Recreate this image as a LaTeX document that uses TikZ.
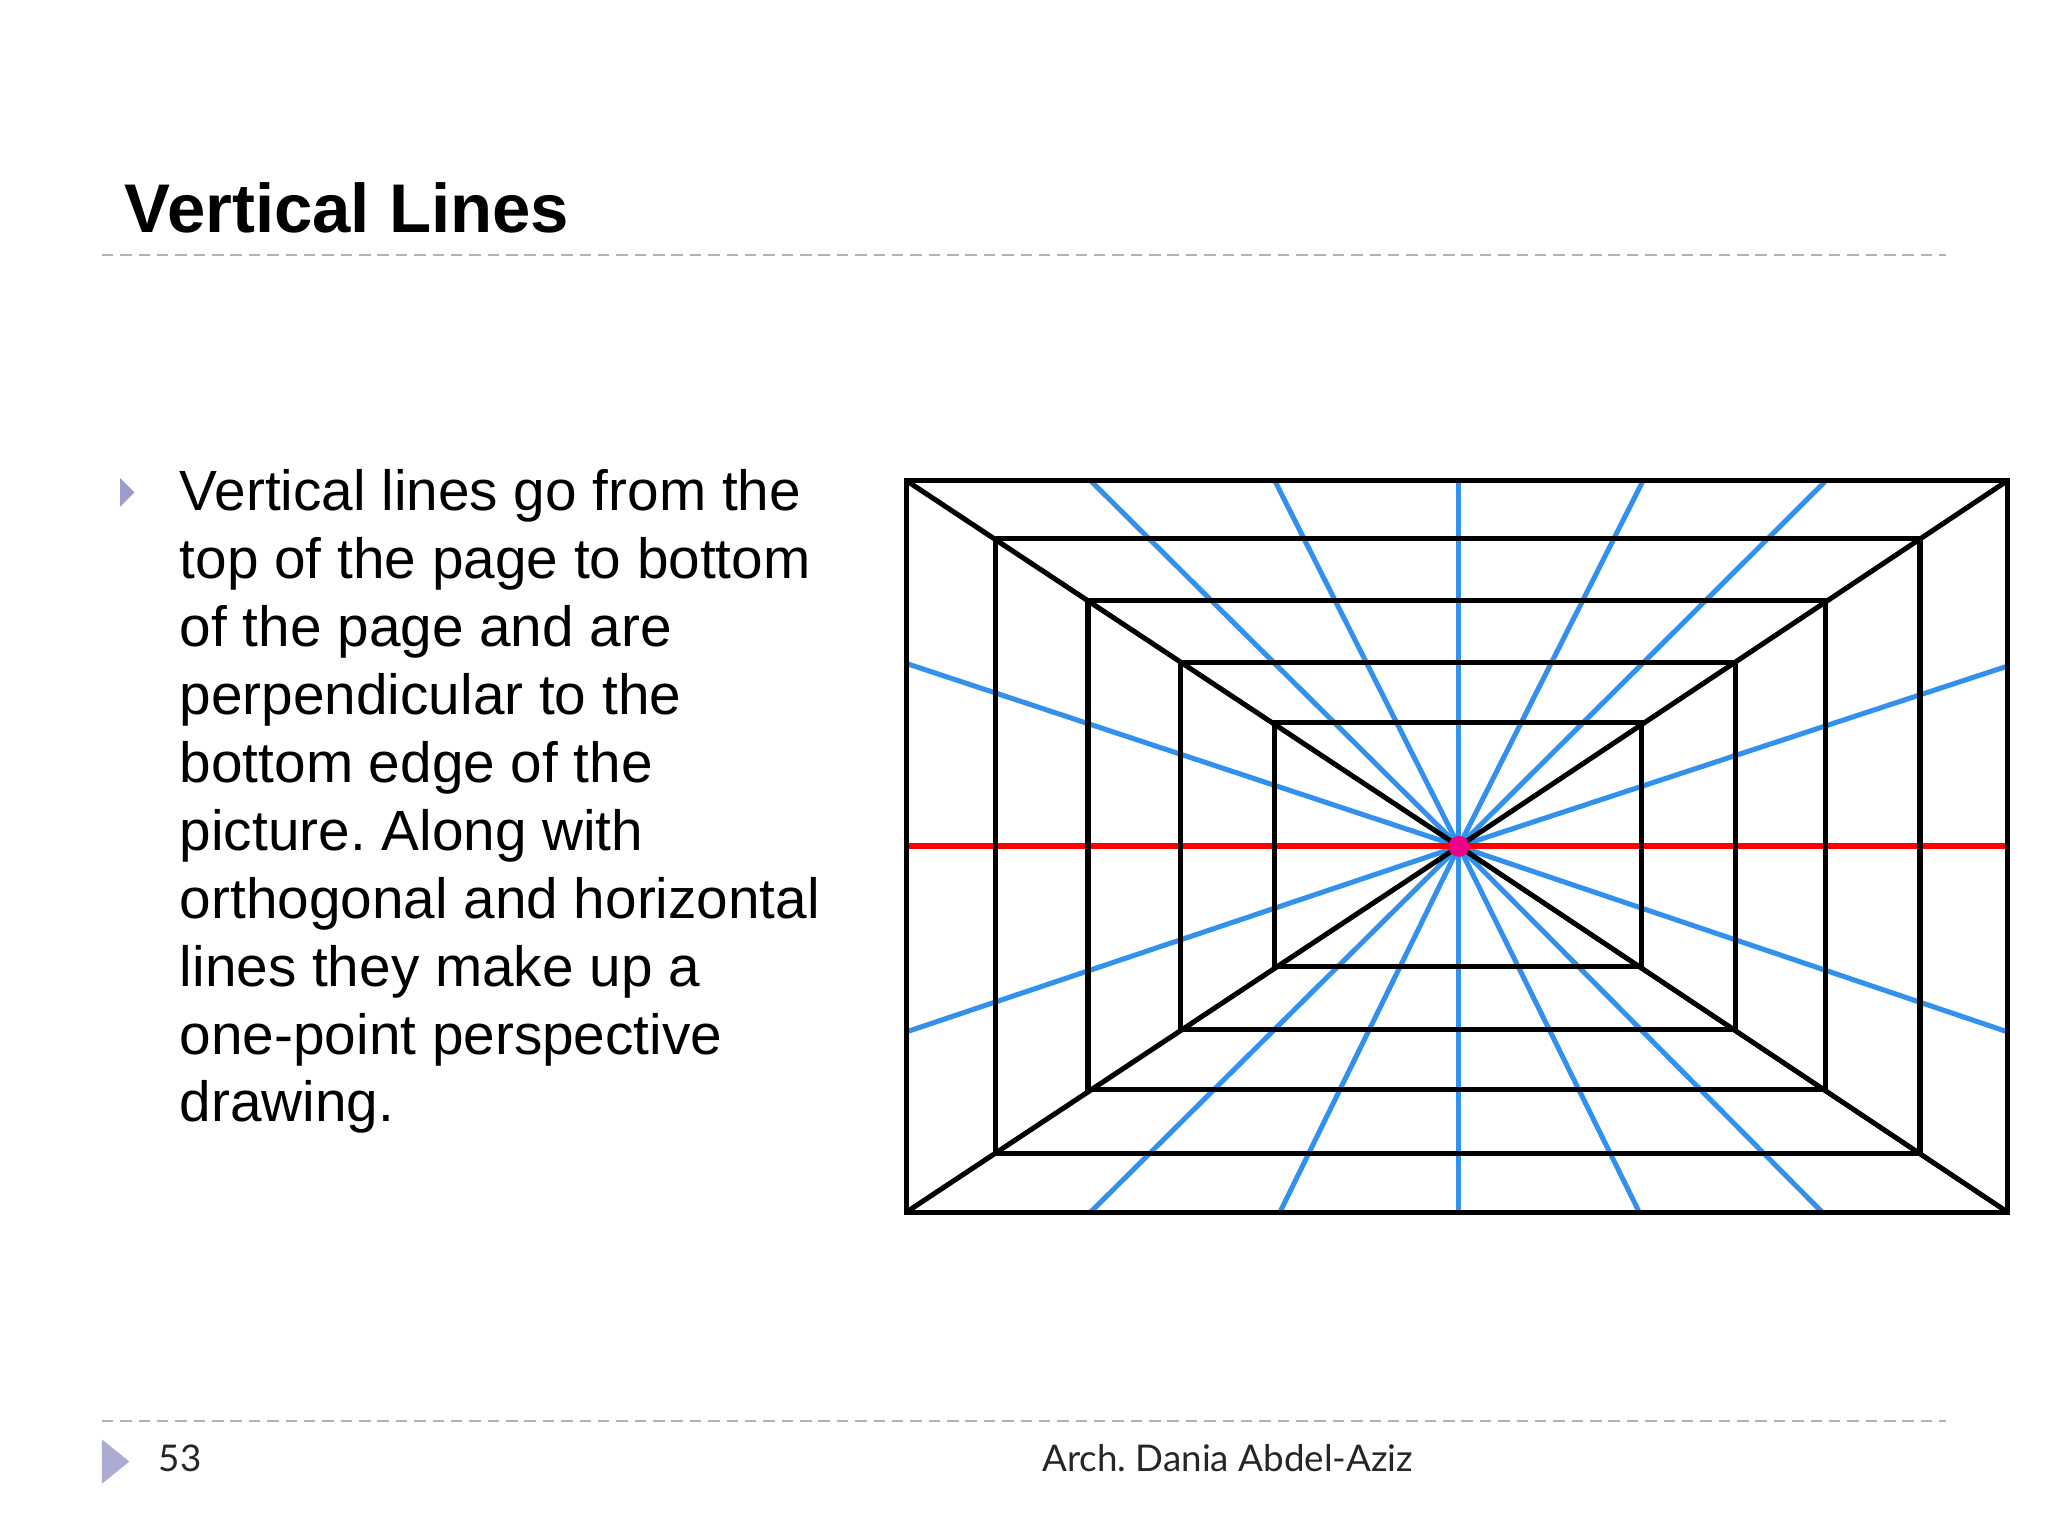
\documentclass[tikz,border=0pt]{standalone}
\usepackage{fontspec}
\setmainfont{Liberation Sans}
\newfontfamily\footfont{Lato}
\frenchspacing
\begin{document}
\begin{tikzpicture}[x=0.01cm,y=-0.01cm,
  frame/.style={line width=1.1pt,black},
  blue/.style={line width=1.1pt,color={rgb,255:red,51;green,145;blue,238}},
  sep/.style={gray!60,dash pattern=on 2.5pt off 1.5pt,line width=0.5pt}]
\useasboundingbox (0,0) rectangle (1568,1176);
\fill[white] (0,0) rectangle (1568,1176);
\node[anchor=base west,inner sep=0,font=\fontsize{15}{18}\selectfont\bfseries] (title) at (95,178) {Vertical Lines};
\draw[sep] (78,195) -- (1490,195);
\draw[sep] (78,1088) -- (1490,1088);
\fill[gray!70!blue!60] (92,366) -- (103,377) -- (92,388) -- cycle;
\node[anchor=north west,inner sep=0,align=left,font=\fontsize{12.35}{14.78}\selectfont] (txt) at (137,359) {Vertical lines go from the\\top of the page to bottom\\of the page and are\\perpendicular to the\\bottom edge of the\\picture. Along with\\orthogonal and horizontal\\lines they make up a\\one-point perspective\\drawing.};
\fill[gray!70!blue!50] (78,1102) -- (99,1119) -- (78,1136) -- cycle;
\node[anchor=base west,inner sep=0,font=\footfont\fontsize{8}{10}\selectfont,gray!30!black] (num) at (121,1127) {53};
\node[anchor=base,inner sep=0,font=\footfont\fontsize{8}{10}\selectfont,gray!30!black] (auth) at (940,1127) {Arch. Dania Abdel-Aziz};
\coordinate (vp) at (1117,648);
\foreach \x in {835,976,1117,1258,1398} \draw[blue] (vp) -- (\x,368);
\foreach \x in {835,980,1117,1255,1395} \draw[blue] (vp) -- (\x,928);
\foreach \y in {508,790} \draw[blue] (vp) -- (694,\y);
\foreach \y in {510,790} \draw[blue] (vp) -- (1537,\y);
\draw[red,line width=1.3pt] (694,648) -- (1535,648);
\foreach \p in {(694,368),(1537,368),(694,928),(1537,928)} \draw[frame] \p -- (vp);
\draw[frame] (694,368) rectangle (1537,928);
\draw[frame] (762,412) rectangle (1470,883);
\draw[frame] (833,460) rectangle (1398,834);
\draw[frame] (904,507) rectangle (1329,788);
\draw[frame] (976,553) rectangle (1257,740);
\fill[magenta] (vp) circle (8);
\end{tikzpicture}
\end{document}
